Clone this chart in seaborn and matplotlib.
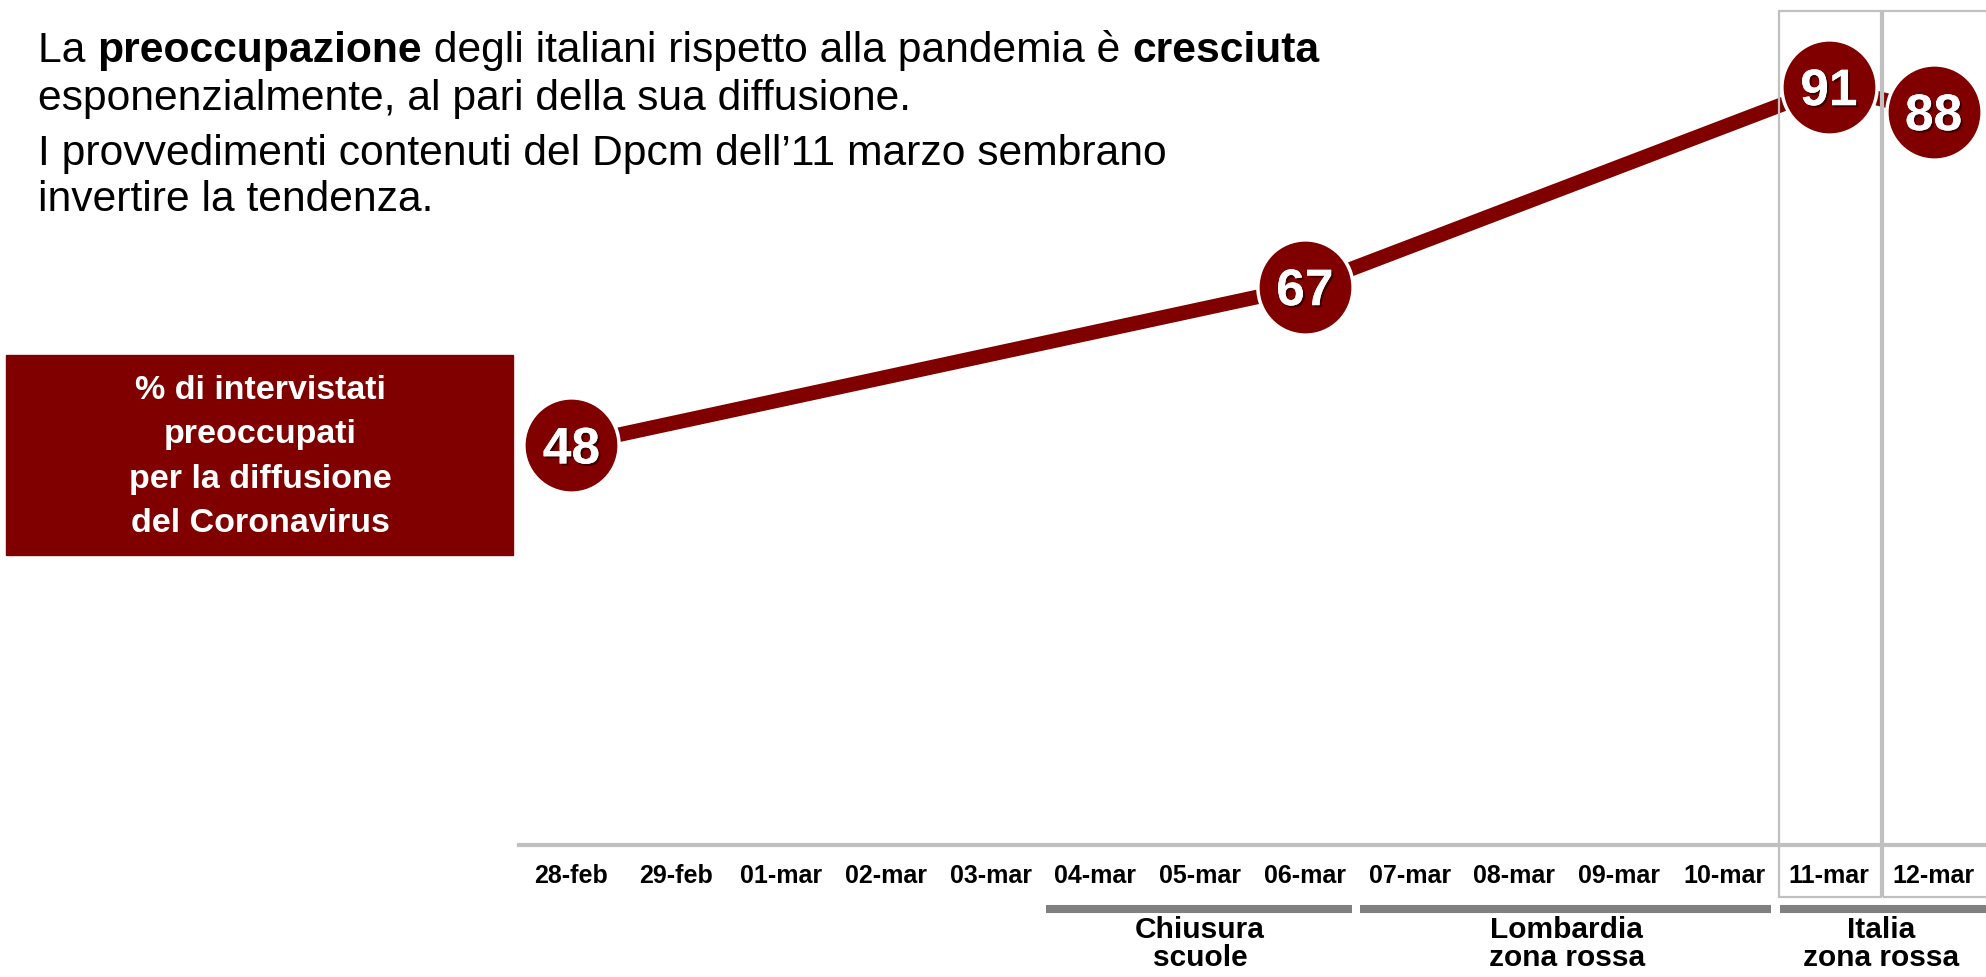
import numpy as np
import pandas as pd
import matplotlib
matplotlib.use("Agg")
import matplotlib.pyplot as plt
import matplotlib.patheffects as pe
from matplotlib import transforms
from matplotlib.patches import Rectangle
import seaborn as sns

# ---------------------------------------------------------------------------
# Data
# ---------------------------------------------------------------------------
dates = ['28-feb', '29-feb', '01-mar', '02-mar', '03-mar', '04-mar', '05-mar',
         '06-mar', '07-mar', '08-mar', '09-mar', '10-mar', '11-mar', '12-mar']
survey_dates = ['28-feb', '06-mar', '11-mar', '12-mar']
worried_pct = [48, 67, 91, 88]

event_labels = ['Chiusura\nscuole', 'Lombardia\nzona rossa', 'Italia\nzona rossa']
event_start = ['04-mar', '07-mar', '11-mar']
event_end = ['06-mar', '10-mar', '12-mar']

boxed_dates = ['11-mar', '12-mar']

box_label = '% di intervistati\npreoccupati\nper la diffusione\ndel Coronavirus'
title_line1 = [('La ', 'normal'), ('preoccupazione', 'bold'),
               (' degli italiani rispetto alla pandemia è ', 'normal'),
               ('cresciuta', 'bold')]
title_rest = ['esponenzialmente, al pari della sua diffusione.',
              'I provvedimenti contenuti del Dpcm dell\u201911 marzo sembrano',
              'invertire la tendenza.']

RED = '#800000'
GREY_BAR = '#808080'
GREY_LINE = '#c0c0c0'

df = pd.DataFrame({'date': survey_dates, 'pct': worried_pct})
df['pos'] = [dates.index(d) for d in df['date']]

# ---------------------------------------------------------------------------
# Figure
# ---------------------------------------------------------------------------
sns.set_theme(style='white')
plt.rcParams['font.family'] = ['Liberation Sans', 'DejaVu Sans']
plt.rcParams['text.color'] = 'black'
plt.rcParams['xtick.color'] = 'black'

W, H = 1986, 977
fig = plt.figure(figsize=(W / 100, H / 100), dpi=100)
ax = fig.add_axes([519 / W, 132 / H, 1 - 519 / W, 845 / H])

sns.lineplot(data=df, x='pos', y='pct', color=RED, linewidth=10.5,
             ax=ax, zorder=2)
sns.scatterplot(data=df, x='pos', y='pct', s=4700, color=RED,
                edgecolor='white', linewidth=2.5, ax=ax, zorder=3,
                clip_on=False)

shadow = [pe.withSimplePatchShadow(offset=(1.5, -1.5), shadow_rgbFace='black',
                                   alpha=0.5), pe.Normal()]
num_tr = transforms.offset_copy(ax.transData, fig, x=0, y=-13.3, units='points')
for p, v in zip(df['pos'], df['pct']):
    ax.text(p, v, str(v), transform=num_tr, ha='center', va='baseline',
            color='white', fontsize=37, fontweight='bold', zorder=4,
            path_effects=shadow)

ax.set_xlim(-0.5, 13.5)
ax.set_ylim(0, 101.4)
ax.set_xticks(range(len(dates)))
ax.set_xticklabels(dates, fontsize=18, fontweight='bold', color='black')
ax.tick_params(axis='x', length=0, pad=14)
ax.set_yticks([])
ax.set_xlabel('')
ax.set_ylabel('')
for side in ['left', 'right', 'top']:
    ax.spines[side].set_visible(False)
ax.spines['bottom'].set_color(GREY_LINE)
ax.spines['bottom'].set_linewidth(3)
ax.set_facecolor('none')

# grey frames around the last two days
blend = transforms.blended_transform_factory(ax.transData, fig.transFigure)
for d in boxed_dates:
    i = dates.index(d)
    width = 0.98 if i < len(dates) - 1 else 1.5
    fig.add_artist(Rectangle((i - 0.48, 1 - 897 / H), width, (897 - 11) / H,
                             transform=blend, fill=False, edgecolor=GREY_LINE,
                             linewidth=1.6, zorder=1))

# event bars and labels below the axis
for lab, s, e in zip(event_labels, event_start, event_end):
    i0, i1 = dates.index(s), dates.index(e)
    x0 = i0 - 0.47
    x1 = i1 + 0.45 if i1 < len(dates) - 1 else i1 + 0.6
    fig.add_artist(plt.Line2D([x0, x1], [1 - 909 / H] * 2, transform=blend,
                              color=GREY_BAR, linewidth=5.8,
                              solid_capstyle='butt'))
    fig.text((i0 + i1) / 2, 1 - 944 / H, lab, transform=blend, ha='center',
             va='center', fontsize=21.5, fontweight='bold', linespacing=1.02)

# left label box
fig.add_artist(Rectangle((6 / W, 1 - 555 / H), 507 / W, 200 / H,
                         transform=fig.transFigure, color=RED, zorder=1))
fig.text(260 / W, 1 - 457 / H, box_label, ha='center', va='center',
         color='white', fontsize=24.5, fontweight='bold', linespacing=1.55)

# title with bold runs
renderer = fig.canvas.get_renderer()
x = 38 / W
y1 = 1 - 62 / H
for txt, wt in title_line1:
    t = fig.text(x, y1, txt, fontsize=30.7, fontweight=wt, va='baseline')
    bb = t.get_window_extent(renderer=renderer)
    x = bb.x1 / fig.bbox.width
for txt, b in zip(title_rest, [110, 165, 211]):
    fig.text(38 / W, 1 - b / H, txt, fontsize=30.7, va='baseline')

fig.savefig('out.png', dpi=100)
